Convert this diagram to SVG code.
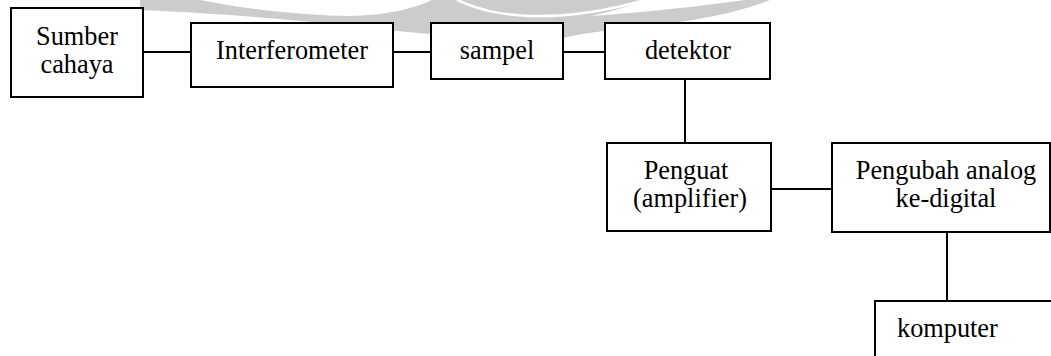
<svg xmlns="http://www.w3.org/2000/svg" width="1051" height="356" viewBox="0 0 1051 356">
<style>
.box{fill:#fff;stroke:#000;stroke-width:2}
.wire{stroke:#000;stroke-width:2;fill:none}
.t{font-family:"Liberation Serif","Times New Roman",serif;font-size:26.3px;fill:#000;text-anchor:middle}
.wm{fill:#cccccc;stroke:none}
.wmw{fill:none;stroke:#fff;stroke-width:2.5}
</style>
<rect width="1051" height="356" fill="#fff"/>
<g id="watermark">
<path class="wm" d="M140,0 L200,0 C250,10 310,16 350,16 C390,15 415,8 432,0 L770,0 C735,14 690,22 630,28 C600,31 580,34 563,38 L563,22 L431,22 L431,34 C360,28 280,16 140,10 Z"/>
<path class="wmw" d="M457,0 C480,10 500,15 530,16 C570,17 610,10 645,0"/>
<path fill="#fff" d="M645,0 L745,0 C700,6 650,12 590,16 C610,12 630,6 645,0 Z"/>
</g>
<g id="connectors">
<line class="wire" x1="143" y1="52" x2="191" y2="52"/>
<line class="wire" x1="393" y1="52" x2="431" y2="52"/>
<line class="wire" x1="563" y1="52" x2="605" y2="52"/>
<line class="wire" x1="685" y1="79" x2="685" y2="143"/>
<line class="wire" x1="771" y1="189" x2="832" y2="189"/>
<line class="wire" x1="947" y1="232" x2="947" y2="301"/>
</g>
<g id="sumber">
<rect class="box" x="11" y="8" width="132" height="89"/>
<text class="t" x="77" y="45">Sumber</text>
<text class="t" x="77" y="73">cahaya</text>
</g>
<g id="interferometer">
<rect class="box" x="191" y="23" width="202" height="64"/>
<text class="t" x="292" y="59">Interferometer</text>
</g>
<g id="sampel">
<rect class="box" x="431" y="23" width="132" height="56"/>
<text class="t" x="497" y="59">sampel</text>
</g>
<g id="detektor">
<rect class="box" x="605" y="23" width="165" height="56"/>
<text class="t" x="688" y="59">detektor</text>
</g>
<g id="penguat">
<rect class="box" x="607" y="143" width="164" height="88"/>
<text class="t" x="686" y="179">Penguat</text>
<text class="t" x="690" y="207">(amplifier)</text>
</g>
<g id="pengubah">
<rect class="box" x="832" y="143" width="218" height="89"/>
<text class="t" x="946" y="179">Pengubah analog</text>
<text class="t" x="946" y="207">ke-digital</text>
</g>
<g id="komputer">
<rect class="box" x="875" y="301" width="220" height="80"/>
<text class="t" x="897" y="337" style="text-anchor:start">komputer</text>
</g>
</svg>
